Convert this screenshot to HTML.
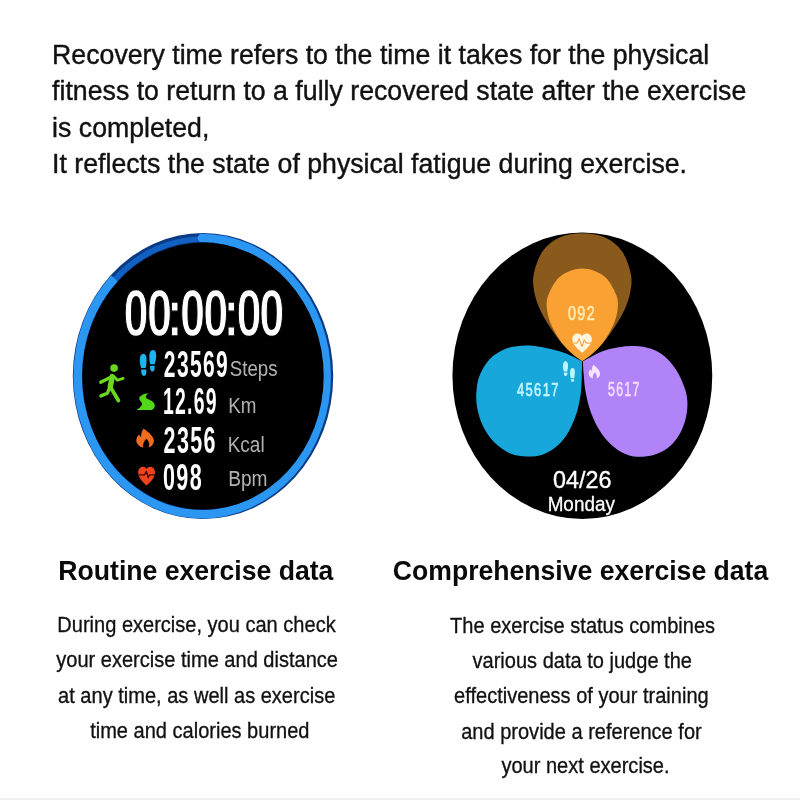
<!DOCTYPE html>
<html><head><meta charset="utf-8"><title>Exercise data</title>
<style>
html,body{margin:0;padding:0;background:#fff;}
body{width:800px;height:800px;position:relative;overflow:hidden;font-family:"Liberation Sans",sans-serif;}
.t{position:absolute;line-height:1;white-space:nowrap;}
svg{position:absolute;left:0;top:0;}
.edge{position:absolute;left:0;top:798px;width:800px;height:2px;background:#f2f2f2;}
</style></head><body>
<svg width="800" height="800" viewBox="0 0 800 800" font-family="Liberation Sans, sans-serif">
<ellipse cx="203.0" cy="376.1" rx="130.2" ry="143.0" fill="#0a3a84"/>
<ellipse cx="203.0" cy="376.1" rx="124.1" ry="137.1" fill="none" stroke="#1260c2" stroke-width="5.6"/>
<path d="M201.91 237.91 A125.2 138.2 0 0 1 203.00 514.30 A125.2 138.2 0 0 1 114.47 278.38" fill="none" stroke="#2b97f3" stroke-width="8.4"/>
<circle cx="201.91" cy="237.91" r="4.2" fill="#2b97f3"/>
<ellipse cx="203.0" cy="376.1" rx="120.7" ry="133.5" fill="#000"/>
<text transform="scale(0.4511 0.6609)" x="273.6 325.7 370.9 399.3 450.8 496.0 524.1 574.5" y="508.3" font-size="100" font-weight="700" fill="#fff" stroke="#000" stroke-width="2.0" stroke-linejoin="round">00:00:00</text>
<text transform="translate(163.87 377.20) scale(0.2104 0.3636)" font-size="100" font-weight="700" fill="#fff" letter-spacing="6.5">23569</text>
<text transform="translate(162.94 413.90) scale(0.1940 0.3664)" font-size="100" font-weight="700" fill="#fff" letter-spacing="6.5">12.69</text>
<text transform="translate(163.56 452.50) scale(0.2149 0.3671)" font-size="100" font-weight="700" fill="#fff" letter-spacing="6.5">2356</text>
<text transform="translate(162.94 490.20) scale(0.2150 0.3671)" font-size="100" font-weight="700" fill="#fff" letter-spacing="6.5">098</text>
<text transform="translate(229.77 375.80) scale(0.1866 0.2243)" font-size="100" font-weight="400" fill="#b2b2b2">Steps</text>
<text transform="translate(228.29 412.60) scale(0.1881 0.2159)" font-size="100" font-weight="400" fill="#b2b2b2">Km</text>
<text transform="translate(227.68 452.20) scale(0.1900 0.2185)" font-size="100" font-weight="400" fill="#b2b2b2">Kcal</text>
<text transform="translate(228.17 486.40) scale(0.1914 0.2174)" font-size="100" font-weight="400" fill="#b2b2b2">Bpm</text>
<g id="runner" fill="none" stroke="#6ad81f" stroke-linecap="round" stroke-linejoin="round">
<circle cx="114.1" cy="368.1" r="3.8" fill="#6ad81f" stroke="none"/>
<path d="M112.3 376.6 L110.3 386.8" stroke-width="5.4"/>
<path d="M110.8 387.6 L118.4 400.5" stroke-width="3.8"/>
<path d="M109.4 388.4 L107.4 393.2 L100.9 395.9" stroke-width="3.4"/>
<path d="M111.2 377 L100.7 382.3" stroke-width="3.2"/>
<path d="M115 377.4 L117.2 380.3 L123.2 378.4" stroke-width="2.7"/>
</g>
<g id="steps-blue" fill="#1db4f3">
<path d="M143.2 353.8 C145.6 353.8 146.8 356.6 146.6 360.4 C146.4 363.8 146 366.2 145.6 368 L141.2 368 C140.2 365.4 139.7 362.4 139.8 359.6 C139.9 356 141.2 353.8 143.2 353.8 Z"/>
<path d="M141.2 369.6 L146.2 369.6 C146.6 372.6 146.2 376 143.9 376 C141.6 376 141 372.6 141.2 369.6 Z"/>
<path d="M152.9 349.9 C155.3 349.9 156.5 352.8 156.2 356.6 C156 359.8 155.4 362.4 154.6 364.3 L150.2 364.3 C149.5 361.6 149.2 358.6 149.3 355.8 C149.4 352.2 150.8 349.9 152.9 349.9 Z"/>
<path d="M150.1 365.8 L154.6 365.8 C154.8 368.6 154.4 371.6 152.4 371.6 C150.4 371.6 149.9 368.6 150.1 365.8 Z"/>
</g>
<path id="road" fill="#52d818" d="M148.3 393.2 C144 393.4 139.4 395.6 139.2 398.6 C139 400.6 141.8 401.8 142 403.6 C142.2 405.8 139.6 408.2 136.4 409.9 L152 410.1 C154 408.6 155.2 406.4 154.6 404.4 C154 402.2 152.6 401.2 150.4 400.2 C148.2 399.2 145.6 398.6 145.8 396.8 C146 395.2 147.4 394.2 148.3 393.2 Z"/>
<path id="flame" fill="#f26a1b" d="M143.6 428.4 C146.4 430.6 153.8 435.6 153.9 440.4 C154 443.6 152.2 446.2 148.6 447.6 C149.8 445 149.4 441.6 146.5 438.4 C143.8 441.2 142.2 444.4 143.4 447.6 C139.4 446.6 136.4 443.8 136.3 440.4 C136.2 437.8 137.6 435.8 139.2 434.4 C139.6 435.6 140.2 436.6 141 437.2 C141 434 141.8 431 143.6 428.4 Z"/>
<g id="heart-red">
<path fill="#f0421c" d="M146.6 485.6 C143.8 482.6 138.2 478.2 138.2 472.4 C138.2 469.2 140.4 466.8 143 466.8 C144.6 466.8 145.8 467.6 146.6 468.9 C147.4 467.6 148.8 466.8 150.4 466.8 C153 466.8 155 469.2 155 472.4 C155 478.2 149.4 482.6 146.6 485.6 Z"/>
<path fill="none" stroke="#3a0a00" stroke-width="1.3" stroke-linejoin="round" d="M138.6 474.8 L144.6 474.8 L146.4 471.4 L148.2 477.6 L149.6 474.8 L154.8 474.8"/>
</g>

<ellipse cx="582.35" cy="375.8" rx="129.9" ry="143.2" fill="#000"/>
<path d="M582.0 361.2 C578.8 359.7 569.8 354.6 562.5 352.2 C555.2 349.8 544.9 347.6 538.1 346.5 C531.3 345.4 527.3 345.3 521.9 345.7 C516.5 346.1 511.0 346.5 505.6 348.8 C500.2 351.1 493.7 354.9 489.4 359.4 C485.1 363.9 481.8 370.2 479.6 375.6 C477.4 381.0 476.8 386.5 476.4 391.9 C476.0 397.3 476.1 402.4 477.2 408.1 C478.3 413.8 480.1 420.3 482.9 426.0 C485.7 431.7 489.6 437.6 494.2 442.2 C498.8 446.8 505.1 451.2 510.5 453.6 C515.9 456.0 521.4 456.5 526.8 456.6 C532.2 456.7 537.9 456.2 543.0 454.4 C548.1 452.5 553.3 449.4 557.6 445.5 C561.9 441.6 565.8 436.6 569.0 430.9 C572.2 425.2 575.1 417.9 577.1 411.4 C579.1 404.9 580.1 397.9 580.9 391.9 C581.7 385.9 581.6 380.7 581.8 375.6 C582.0 370.5 582.0 363.6 582.0 361.2 Z" fill="#18a7db"/>
<path d="M582.9 361.2 C586.2 359.5 596.5 353.5 602.5 351.2 C608.5 348.9 613.3 348.1 618.7 347.2 C624.1 346.3 629.6 345.7 635.0 346.0 C640.4 346.3 646.3 347.1 651.2 348.8 C656.1 350.5 660.1 352.7 664.2 356.1 C668.3 359.5 672.4 364.2 675.6 369.1 C678.9 374.0 681.8 380.2 683.7 385.4 C685.7 390.5 686.9 394.9 687.3 400.0 C687.7 405.1 687.3 410.8 686.2 416.2 C685.1 421.6 683.1 427.6 680.5 432.5 C677.9 437.4 674.5 442.0 670.7 445.5 C666.9 449.0 662.3 451.7 657.7 453.6 C653.1 455.5 648.0 456.4 643.1 456.7 C638.2 457.0 633.4 456.8 628.5 455.2 C623.6 453.6 618.5 450.9 613.9 447.1 C609.3 443.3 604.7 438.2 600.9 432.5 C597.1 426.8 593.6 419.8 591.1 413.0 C588.6 406.2 586.8 398.1 585.6 391.9 C584.4 385.7 584.2 380.7 583.8 375.6 C583.3 370.5 583.0 363.6 582.9 361.2 Z" fill="#b084f8"/>
<path d="M582.3 361.2 C579.4 358.8 570.1 352.1 565.1 346.9 C560.1 341.7 556.0 335.9 552.0 330.0 C548.0 324.1 543.7 317.6 540.8 311.3 C537.9 305.1 535.6 298.8 534.4 292.5 C533.2 286.2 532.4 280.7 533.8 273.8 C535.2 266.9 538.3 257.4 542.6 251.3 C546.9 245.2 552.9 240.4 559.5 237.4 C566.1 234.4 574.7 233.2 582.3 233.2 C589.9 233.2 598.5 234.4 605.1 237.4 C611.7 240.4 617.7 245.2 622.0 251.3 C626.3 257.4 629.4 266.9 630.8 273.8 C632.2 280.7 631.4 286.2 630.2 292.5 C629.0 298.8 626.7 305.1 623.8 311.3 C620.9 317.6 616.6 324.1 612.6 330.0 C608.5 335.9 604.5 341.7 599.5 346.9 C594.4 352.1 585.2 358.8 582.3 361.2 Z" fill="#8a5a1d"/>
<path d="M582.3 361.2 C580.4 359.8 574.6 356.1 570.8 352.5 C567.0 348.9 562.9 344.4 559.5 339.4 C556.1 334.4 552.4 327.8 550.3 322.5 C548.2 317.2 547.1 312.2 546.8 307.5 C546.5 302.8 546.4 299.6 548.6 294.4 C550.8 289.2 554.6 280.7 560.2 276.4 C565.8 272.1 574.9 268.6 582.3 268.6 C589.7 268.6 598.8 272.1 604.4 276.4 C610.0 280.7 613.8 289.2 616.0 294.4 C618.2 299.6 618.1 302.8 617.8 307.5 C617.5 312.2 616.4 317.2 614.3 322.5 C612.2 327.8 608.5 334.4 605.1 339.4 C601.7 344.4 597.6 348.9 593.8 352.5 C590.0 356.1 584.2 359.8 582.3 361.2 Z" fill="#f9a233"/>
<g id="heart-cream">
<path fill="#fff4dc" d="M582.1 352.9 C579 349.6 572.3 345 572.3 339.2 C572.3 335.9 574.7 333.5 577.5 333.5 C579.4 333.5 581.1 334.5 582.1 336.1 C583.1 334.5 584.8 333.5 586.7 333.5 C589.5 333.5 591.9 335.9 591.9 339.2 C591.9 345 585.2 349.6 582.1 352.9 Z"/>
<path fill="none" stroke="#f09a2c" stroke-width="1.0" stroke-linejoin="round" stroke-linecap="round" d="M574.2 343.1 L577.3 343.1 L579 338.6 L582 346.6 L584.3 339.8 L585.9 343.1 L590.6 343.1"/>
</g>
<g id="steps-small" fill="#bdf5ff">
<path d="M565.5 361.3 C567.3 361.3 568.2 363.4 568.1 366 C568 368.2 567.6 370.2 567.2 371.6 L563.9 371.6 C563.2 369.8 562.8 367.6 562.9 365.6 C563 363 564 361.3 565.5 361.3 Z"/>
<path d="M563.9 372.6 L567.3 372.6 C567.5 374.4 567.2 376.1 565.6 376.1 C564 376.1 563.7 374.4 563.9 372.6 Z"/>
<path d="M572.5 368 C574.2 368 575 370 574.9 372.6 C574.8 374.8 574.5 376.8 574.1 378.3 L570.9 378.3 C570.3 376.5 569.9 374.3 570 372.3 C570.1 369.7 571 368 572.5 368 Z"/>
<path d="M570.9 379.2 L574.1 379.2 C574.3 380.6 574 381.8 572.5 381.8 C571 381.8 570.7 380.6 570.9 379.2 Z"/>
</g>
<path id="flame-small" fill="#f6e3ff" d="M593.3 364.8 C595.4 366.6 599.9 369.8 600 373.4 C600.1 375.8 598.8 377.7 596.4 378.6 C597.2 376.7 596.9 374.4 595 372.2 C593.2 374.2 592.2 376.4 593 378.6 C590.4 377.9 588.7 375.9 588.7 373.5 C588.7 371.7 589.6 370.3 590.6 369.3 C590.9 370.1 591.3 370.8 591.8 371.2 C591.8 369 592.2 366.7 593.3 364.8 Z"/>

<text transform="translate(567.88 319.80) scale(0.1438 0.1979)" font-size="100" font-weight="400" fill="#ffe9ae" stroke="#ffe9ae" stroke-width="3.5" stroke-linejoin="round" letter-spacing="10">092</text>
<text transform="translate(517.07 395.90) scale(0.1300 0.1923)" font-size="100" font-weight="400" fill="#c0f5ff" stroke="#c0f5ff" stroke-width="3.5" stroke-linejoin="round" letter-spacing="10">45617</text>
<text transform="translate(607.97 396.20) scale(0.1247 0.1965)" font-size="100" font-weight="400" fill="#f4d8ff" stroke="#f4d8ff" stroke-width="3.5" stroke-linejoin="round" letter-spacing="10">5617</text>
<text transform="translate(553.04 487.50) scale(0.2337 0.2454)" font-size="100" font-weight="400" fill="#fff" stroke="#fff" stroke-width="1.5" stroke-linejoin="round">04/26</text>
<text transform="translate(547.63 511.20) scale(0.1891 0.2007)" font-size="100" font-weight="400" fill="#fff" stroke="#fff" stroke-width="1.5" stroke-linejoin="round">Monday</text>
</svg>
<div class="t" style="left:52.10px;top:41.60px;font-size:26.7px;color:#111;-webkit-text-stroke:0.4px #111;transform:scaleY(1.05);transform-origin:50% 84.65%;">Recovery time refers to the time it takes for the physical</div>
<div class="t" style="left:52.10px;top:78.20px;font-size:26.7px;color:#111;-webkit-text-stroke:0.4px #111;transform:scaleY(1.05);transform-origin:50% 84.65%;">fitness to return to a fully recovered state after the exercise</div>
<div class="t" style="left:52.10px;top:114.80px;font-size:26.7px;color:#111;-webkit-text-stroke:0.4px #111;transform:scaleY(1.05);transform-origin:50% 84.65%;">is completed,</div>
<div class="t" style="left:52.10px;top:151.40px;font-size:26.7px;color:#111;-webkit-text-stroke:0.4px #111;transform:scaleY(1.05);transform-origin:50% 84.65%;">It reflects the state of physical fatigue during exercise.</div>
<div class="t" style="left:58.30px;top:558.17px;font-size:26.62px;font-weight:700;color:#0a0a0a;transform:scaleY(1.06);transform-origin:50% 84.65%;">Routine exercise data</div>
<div class="t" style="left:392.80px;top:558.38px;font-size:26.6px;font-weight:700;color:#0a0a0a;transform:scaleY(1.06);transform-origin:50% 84.65%;">Comprehensive exercise data</div>
<div class="t" style="left:-103.50px;width:600px;text-align:center;top:615.43px;font-size:20.05px;color:#111;-webkit-text-stroke:0.3px #111;transform:scaleY(1.09);transform-origin:50% 84.65%;">During exercise, you can check</div>
<div class="t" style="left:-102.90px;width:600px;text-align:center;top:650.43px;font-size:20.05px;color:#111;-webkit-text-stroke:0.3px #111;transform:scaleY(1.09);transform-origin:50% 84.65%;">your exercise time and distance</div>
<div class="t" style="left:-103.30px;width:600px;text-align:center;top:685.63px;font-size:20.05px;color:#111;-webkit-text-stroke:0.3px #111;transform:scaleY(1.09);transform-origin:50% 84.65%;">at any time, as well as exercise</div>
<div class="t" style="left:-100.20px;width:600px;text-align:center;top:720.83px;font-size:20.05px;color:#111;-webkit-text-stroke:0.3px #111;transform:scaleY(1.09);transform-origin:50% 84.65%;">time and calories burned</div>
<div class="t" style="left:282.60px;width:600px;text-align:center;top:615.83px;font-size:20.05px;color:#111;-webkit-text-stroke:0.3px #111;transform:scaleY(1.09);transform-origin:50% 84.65%;">The exercise status combines</div>
<div class="t" style="left:282.25px;width:600px;text-align:center;top:651.13px;font-size:20.05px;color:#111;-webkit-text-stroke:0.3px #111;transform:scaleY(1.09);transform-origin:50% 84.65%;">various data to judge the</div>
<div class="t" style="left:281.40px;width:600px;text-align:center;top:686.03px;font-size:20.05px;color:#111;-webkit-text-stroke:0.3px #111;transform:scaleY(1.09);transform-origin:50% 84.65%;">effectiveness of your training</div>
<div class="t" style="left:281.45px;width:600px;text-align:center;top:721.53px;font-size:20.05px;color:#111;-webkit-text-stroke:0.3px #111;transform:scaleY(1.09);transform-origin:50% 84.65%;">and provide a reference for</div>
<div class="t" style="left:285.50px;width:600px;text-align:center;top:756.43px;font-size:20.05px;color:#111;-webkit-text-stroke:0.3px #111;transform:scaleY(1.09);transform-origin:50% 84.65%;">your next exercise.</div>
<div class="edge"></div>
</body></html>
